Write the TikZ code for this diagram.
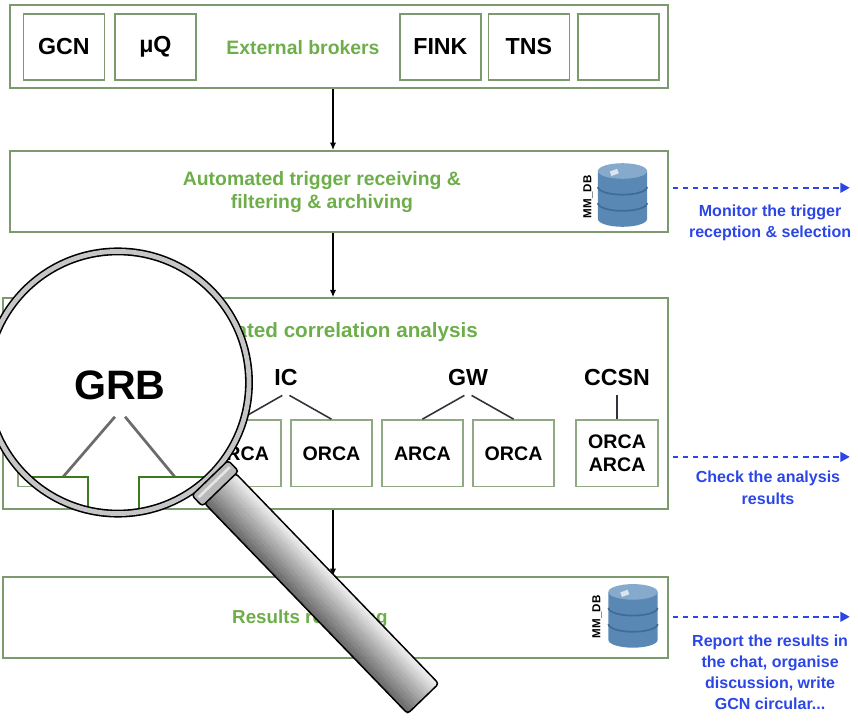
\documentclass[tikz,border=0pt]{standalone}
\usepackage{fontspec}
\setmainfont{Liberation Sans}
\usepackage{tikz}
\usetikzlibrary{arrows.meta,calc,positioning}
\definecolor{boxgreen}{HTML}{7C9A6E}
\definecolor{titlegreen}{HTML}{6DAE4A}
\definecolor{noteblue}{HTML}{2C46E6}
\definecolor{dbblue}{HTML}{5A88B4}
\definecolor{dbtop}{HTML}{86AACB}
\definecolor{dbline}{HTML}{406B95}
\definecolor{lensgreen}{HTML}{3C7A1E}
\definecolor{darkgray}{HTML}{30343B}
\tikzset{
  stage/.style={draw=boxgreen, line width=1.6pt, minimum width=21.93cm, minimum height=2.75cm, inner sep=0pt},
  broker/.style={draw=boxgreen, line width=1.6pt, minimum width=2.7cm, minimum height=2.2cm, inner sep=0pt, font=\fontsize{22}{24}\selectfont\bfseries},
  detector/.style={draw=boxgreen!85, line width=1.3pt, minimum width=2.7cm, minimum height=2.23cm, inner sep=0pt, align=center, font=\fontsize{18.6}{22}\selectfont\bfseries},
  source/.style={inner sep=0pt, font=\fontsize{22}{24}\selectfont\bfseries},
  stagetitle/.style={text=titlegreen, align=center, font=\fontsize{18.4}{22.5}\selectfont\bfseries},
  note/.style={text=noteblue, align=center, font=\fontsize{15.2}{20}\selectfont\bfseries},
  dblabel/.style={rotate=90, inner sep=0pt, font=\fontsize{11}{12}\selectfont\bfseries},
  flow/.style={black, line width=1.2pt, -{Latex[length=7pt,width=6pt]}},
  notearrow/.style={noteblue, line width=2.4pt, dash pattern=on 5pt off 4.5pt, -{Triangle[length=9pt,width=9pt]}},
  branch/.style={darkgray, line width=1.5pt},
  zoombranch/.style={gray!85!black, line width=2.6pt},
  database/.pic={
    \fill[dbblue] (-0.82,0.8) -- (-0.82,-0.8) arc[start angle=180, end angle=360, x radius=0.82, y radius=0.26] -- (0.82,0.8) -- cycle;
    \foreach \h in {0.27,-0.27}
      \draw[dbline, line width=1.6pt] (-0.82,\h) arc[start angle=180, end angle=360, x radius=0.82, y radius=0.26];
    \fill[dbtop] (0,0.8) ellipse[x radius=0.82, y radius=0.26];
    \fill[white!70!dbtop, rotate=20] (-0.13,0.72) rectangle (0.13,0.88);
  }
}

\begin{document}
\begin{tikzpicture}
  \useasboundingbox (0,0) rectangle (28.6,24.03);
  \coordinate (axis) at (11.1,0);

  % external brokers
  \node[stage, minimum height=2.77cm] (brokers) at (11.3,22.48) {};
  \node[broker] (gcn) at (2.13,22.47) {GCN};
  \node[broker] (muq) at (5.18,22.47) {μQ};
  \node[stagetitle] (exttitle) at (10.1,22.43) {External brokers};
  \node[broker] (fink) at (14.68,22.47) {FINK};
  \node[broker] (tns) at (17.63,22.47) {TNS};
  \node[broker] (spare) at (20.62,22.47) {};

  % trigger handling
  \node[stage, minimum height=2.7cm] (trigger) at (11.3,17.65) {};
  \node[stagetitle] (trigtitle) at (10.73,17.63) {Automated trigger receiving \&\\filtering \& archiving};
  \pic at (20.75,17.53) {database};
  \node[dblabel] (db1) at (19.6,17.47) {MM\_DB};

  % correlation analysis
  \node[stage, minimum width=22.17cm, minimum height=7.03cm] (corr) at (11.18,10.58) {};
  \node[stagetitle, font=\fontsize{19.6}{22.5}\selectfont\bfseries] (corrtitle) at (10.8,12.97) {Automated correlation analysis};
  \node[source] (ic) at (9.53,11.43) {IC};
  \node[source] (gw) at (15.6,11.43) {GW};
  \node[source] (ccsn) at (20.57,11.43) {CCSN};
  \node[detector] (grb1) at (1.95,8.92) {};
  \node[detector] (grb2) at (4.98,8.92) {};
  \node[detector] (ic1) at (8.02,8.92) {ARCA};
  \node[detector] (ic2) at (11.05,8.92) {ORCA};
  \node[detector] (gw1) at (14.08,8.92) {ARCA};
  \node[detector] (gw2) at (17.12,8.92) {ORCA};
  \node[detector, minimum width=2.73cm] (ccsn1) at (20.57,8.92) {ORCA\\ARCA};
  \foreach \s in {ic,gw}{
    \draw[branch] ([xshift=-0.12cm,yshift=-0.3cm]\s.south) -- (\s1.north);
    \draw[branch] ([xshift=0.12cm,yshift=-0.3cm]\s.south) -- (\s2.north);
  }
  \draw[branch] ([yshift=-0.3cm]ccsn.south) -- (ccsn1.north);

  % reporting
  \node[stage, minimum width=22.17cm, minimum height=2.7cm] (results) at (11.18,3.45) {};
  \node[stagetitle, font=\fontsize{17.8}{22}\selectfont\bfseries] (restitle) at (10.33,3.4) {Results reporting};
  \pic at (21.1,3.5) {database};
  \node[dblabel] (db2) at (19.9,3.47) {MM\_DB};

  \draw[flow] (brokers.south -| axis) -- (trigger.north -| axis);
  \draw[flow] (trigger.south -| axis) -- (corr.north -| axis);
  \draw[flow] (corr.south -| axis) -- (results.north -| axis);

  % follow-up notes
  \coordinate (m1) at (28.33,17.77);
  \coordinate (m2) at (28.33,8.8);
  \coordinate (m3) at (28.33,3.47);
  \draw[notearrow, shorten <=4pt] (trigger.east |- m1) -- (m1);
  \draw[notearrow, shorten <=4pt] (corr.east |- m2) -- (m2);
  \draw[notearrow, shorten <=4pt] (results.east |- m3) -- (m3);
  \node[note] (n1) at (25.67,16.6) {Monitor the trigger\\reception \& selection};
  \node[note] (n2) at (25.6,7.77) {Check the analysis\\results};
  \node[note] (n3) at (25.67,1.63) {Report the results in\\the chat, organise\\discussion, write\\GCN circular...};

  % magnifier
  \coordinate (lens) at (3.93,11.28);
  \fill[white] (lens) circle (4.33);
  \begin{scope}
    \clip (lens) circle (4.33);
    \node[inner sep=0pt, font=\fontsize{39}{40}\selectfont\bfseries] (grbzoom) at (4.0,11.2) {GRB};
    \coordinate (zl) at (2.1,8.13);
    \coordinate (zr) at (5.83,8.13);
    \draw[zoombranch] ([xshift=-0.17cm,yshift=-0.57cm]grbzoom.south) -- (zl);
    \draw[zoombranch] ([xshift=0.17cm,yshift=-0.57cm]grbzoom.south) -- (zr);
    \draw[lensgreen, line width=2.6pt] (-2,4) rectangle (2.93,8.13);
    \draw[lensgreen, line width=2.6pt] (4.63,4) rectangle (10,8.13);
  \end{scope}
  \draw[black, line width=7.5pt] (lens) circle (4.37);
  \draw[gray!45, line width=4.5pt] (lens) circle (4.37);
  \begin{scope}[shift={(lens)}, rotate=-46]
    \foreach \i in {0,...,23}{
      \pgfmathsetmacro{\y}{-0.72+0.06*\i}
      \pgfmathsetmacro{\c}{int(60-2.3*\i)}
      \fill[black!\c] (4.9,\y) rectangle (14.65,\y+0.068);
    }
    \draw[line width=1.4pt, rounded corners=3pt] (4.9,-0.72) rectangle (14.65,0.72);
    \draw[line width=1.4pt, fill=gray!55, rounded corners=3pt] (4.42,-0.84) rectangle (4.92,0.84);
    \draw[gray!20, line width=2.5pt] (4.62,-0.72) -- (4.62,0.72);
  \end{scope}
\end{tikzpicture}
\end{document}
